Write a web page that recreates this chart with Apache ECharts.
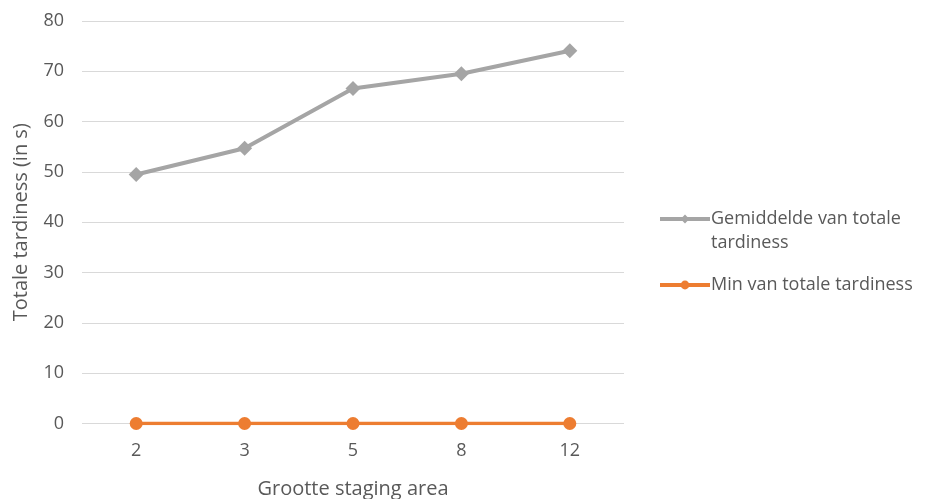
<!DOCTYPE html>
<html>
<head>
<meta charset="utf-8">
<script src="https://cdn.jsdelivr.net/npm/echarts@6/dist/echarts.min.js"></script>
<style>
  html, body { margin: 0; padding: 0; background: #fff; }
  #chart { width: 935px; height: 499px; }
</style>
</head>
<body>
<div id="chart"></div>
<script>
// Staging area sizes on the x axis
const categories = ['2', '3', '5', '8', '12'];
// Average total tardiness per size
const avgTardiness = [49.5, 54.7, 66.6, 69.5, 74.1];
// Minimum total tardiness per size
const minTardiness = [0, 0, 0, 0, 0];
const yTicks = [0, 10, 20, 30, 40, 50, 60, 70, 80];

const seriesNames = ['Gemiddelde van totale tardiness', 'Min van totale tardiness'];
// A leading blank line puts the icon level with the first line of the wrapped label
const legendText = {
  'Gemiddelde van totale tardiness': '\nGemiddelde van totale\ntardiness',
  'Min van totale tardiness': 'Min van totale tardiness'
};

const font = 'Open Sans, Liberation Sans, sans-serif';
const textColor = '#595959';
const chart = echarts.init(document.getElementById('chart'), null, { renderer: 'canvas' });

function legendBlock(name, top) {
  return {
    orient: 'vertical',
    left: 658,
    top: top,
    padding: 0,
    itemWidth: 50,
    itemHeight: 11,
    lineStyle: { width: 4 },
    itemStyle: { borderWidth: 0 },
    textStyle: { fontFamily: font, fontSize: 18, color: textColor, lineHeight: 24, padding: [0, 0, 0, -4] },
    formatter: n => legendText[n],
    data: [name]
  };
}

chart.setOption({
  animation: false,
  backgroundColor: '#ffffff',
  grid: { left: 82, right: 311, top: 21, bottom: 75.5, containLabel: false, outerBoundsMode: 'none' },
  legend: [
    legendBlock(seriesNames[0], 183),
    legendBlock(seriesNames[1], 273)
  ],
  xAxis: {
    type: 'category',
    data: categories,
    boundaryGap: true,
    name: 'Grootte staging area',
    nameLocation: 'middle',
    nameGap: 56,
    nameTextStyle: { fontFamily: font, fontSize: 20, color: textColor },
    axisLine: { show: false },
    axisTick: { show: false },
    axisLabel: { fontFamily: font, fontSize: 18, color: textColor, margin: 18 }
  },
  yAxis: {
    type: 'value',
    min: yTicks[0],
    max: yTicks[yTicks.length - 1],
    interval: 10,
    name: 'Totale tardiness (in s)',
    nameLocation: 'middle',
    nameGap: 51,
    nameTextStyle: { fontFamily: font, fontSize: 20, color: textColor },
    axisLine: { show: false },
    axisTick: { show: false },
    axisLabel: { fontFamily: font, fontSize: 18, color: textColor, margin: 18 },
    splitLine: { lineStyle: { color: '#d9d9d9', width: 1 } }
  },
  series: [
    {
      name: seriesNames[0],
      type: 'line',
      data: avgTardiness,
      symbol: 'diamond',
      symbolSize: 15,
      color: '#a5a5a5',
      lineStyle: { width: 4, color: '#a5a5a5' },
      itemStyle: { color: '#a5a5a5' }
    },
    {
      name: seriesNames[1],
      type: 'line',
      data: minTardiness,
      symbol: 'circle',
      symbolSize: 13,
      color: '#ed7d31',
      lineStyle: { width: 3.5, color: '#ed7d31' },
      itemStyle: { color: '#ed7d31' }
    }
  ]
});
</script>
</body>
</html>
